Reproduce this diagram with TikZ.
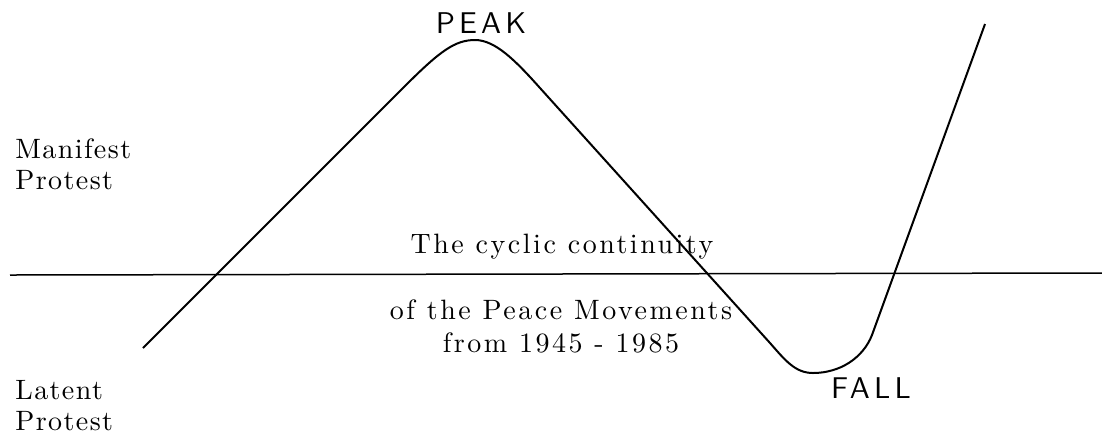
\documentclass[tikz,border=0pt]{standalone}
\usepackage{fontspec}
\usetikzlibrary{positioning}
\newfontfamily\typedfont{lmroman10-regular}[Extension=.otf,LetterSpace=5]
\newfontfamily\widefont{lmroman10-regular}[Extension=.otf,LetterSpace=9]
\newfontfamily\handfont{lmsans10-regular}[Extension=.otf,LetterSpace=14]

\begin{document}
\begin{tikzpicture}[x=0.5pt,y=-0.5pt,
  lbl/.style={inner sep=0pt,align=left,
              font=\typedfont\fontsize{14}{15.5}\selectfont},
  mid/.style={inner sep=0pt,align=center,
              font=\widefont\fontsize{14}{16.5}\selectfont},
  hand/.style={inner sep=0pt,font=\handfont\fontsize{15}{18}\selectfont},
  wave/.style={line width=1pt,line join=round},
  axis/.style={line width=0.75pt}]
\fill[white] (0,0) rectangle (1102,436);
\useasboundingbox (0,0) rectangle (1102,436);
% the two levels of protest
\draw[axis] (10,275) -- (1102,273);
\node[lbl,anchor=north west] (manifest) at (15,138) {Manifest\\Protest};
\node[lbl,anchor=north west] (latent) at (15,380) {Latent\\Protest};
% the cycle
\draw[wave] (143,348) -- (405,86) .. controls (440,51) and (455,40) .. (475,40)
  .. controls (495,40) and (515,60) .. (540,88) -- (770,343)
  .. controls (785,360) and (795,373) .. (813,373)
  .. controls (840,373) and (863,358) .. (872,335) -- (985,24);
\node[hand,anchor=base] (peak) at (481,33) {PEAK};
\node[hand,anchor=base] (fall) at (871,398) {FALL};
% caption in the middle
\node[mid,anchor=base] (title) at (562,253) {The cyclic continuity};
\node[mid,anchor=north] (subtitle) at (561,299) {of the Peace Movements\\from 1945 - 1985};
\end{tikzpicture}
\end{document}
